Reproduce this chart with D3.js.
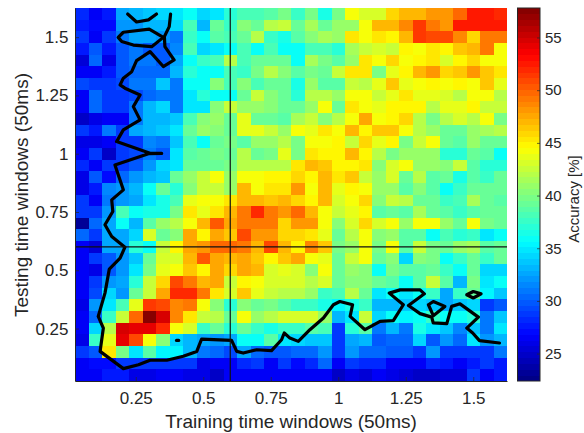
<!DOCTYPE html>
<html><head><meta charset="utf-8"><script src="https://cdn.jsdelivr.net/npm/d3@7"></script>
<style>html,body{margin:0;padding:0;background:#fff}svg{display:block}text{font-family:"Liberation Sans",Arial,sans-serif;fill:#262626}</style>
</head><body><div id="c"></div><script>
const accuracy=[
[28,26.8,27.5,32.5,33,34,34.5,34.8,35.7,34.5,35,37,38,38,38.5,40,37.5,40,36.5,40,44.5,43,43,46,47,47,48,48,50,52.5,52.5,52],
[27.5,27,27,32,32,33,33,34.5,38,33,39,37.5,40.5,39.5,42,42.5,39,41.5,39,41,41,44.5,47,47,48.5,51.5,49.5,48,52.5,52.5,52.5,52.5],
[29,26.8,28.5,31,32.5,32.5,32,31,37.5,35.7,38.5,38,39,42,37.5,36.5,38.5,40.5,41.5,41,45.5,44.5,45.5,45,47,51.5,51,51,48.5,46,49,49],
[27.5,30,27.5,30,31,30,30,31.5,38,34.5,35,36,38,36,38,36,36,38,38,37,41.5,42.5,43,42.5,45,44,45.5,45,46.5,47,49,44.5],
[25.5,30.5,26,30,31,31,30,32.5,35.7,37.5,38,42,38,39.5,39.5,39,35.7,41.5,40,38.5,41,45.5,44,46,44,45,45.5,43,45,46,44,44.5],
[26.8,26.8,27.5,30,30.5,30.5,30.5,33,37,35.7,35.7,38,37.5,40,42,40.5,38.5,40,39,42.5,45.5,45.5,40,43.5,45,47,48,46,46.5,48,46.5,45.5],
[29.5,29,29,29.5,31,31,34,31,35.7,35.7,40.5,38,40.5,38,39,39,36.5,41,38.5,38.5,42.5,42,43.5,46.5,43.5,44.5,45,44,45,44.5,46.5,43.8],
[26.8,30.5,28.5,28.5,29.5,30.5,31,31,35,37,35.7,35.7,39,42.5,40.5,39,37,42,42,41,44,44.5,42.5,43.5,45.5,43.5,43.5,43,42,44,44.5,42],
[26.8,30.5,29,29,31,33,34.5,31,35,35,40.5,42.5,41,41,40.5,39,39.5,41,44,39,45.5,44,43.5,45,45,45,42,43.5,43.5,45,42.5,42.5],
[25,26,26.5,26.8,31,33,33,34,38,40.5,41,39.5,43.5,39,39.5,38.5,41.5,42.5,40.5,42,44.5,47.5,44.5,45,46,42,40,42,43,42,44,40],
[28.5,27.5,31,29,32.5,33,34,35,39,41,40.5,39,43.5,43.5,42.5,41,44,43.5,45.5,44,47,45,46.5,46.5,44,42,41,39.5,39.5,41,41.5,42],
[26,26,26.8,29,29,31.5,31,33.5,38,36,39,40,38.5,41,41,42,40,44,44.5,45,42.5,46,43.5,45,40,42.5,44.5,39.5,38.5,41,39,39],
[26.5,29,25,29,29.5,31,30,35,38.5,39,40,39.5,42,39,40,43.5,40,45.5,45,45,47,45,42,40,41,41,41,37,37,39.5,38.5,35.7],
[28,26.8,29,29,30,32,34.5,35,39,39,39.5,40,42,42,42,42,45.5,47,46.5,45,45,45.5,40.5,43,44.5,41,41,40.5,42.5,38.5,37,37],
[26,30,27,30.5,32,33,33.5,39.5,41,42.5,44,41,44,44,44.8,44.8,46,45,47,45.5,46.5,42.5,41,43,39,42,38.5,39,36.5,38.5,37.5,39.5],
[26,27.5,31.5,32,33,35.7,39.5,37,40.5,42.5,42.5,41,47,44.5,45.5,45.5,48,44,47,43.5,45,44,41,41,38.5,40.5,38.5,35.7,37.5,39,39.5,39.5],
[28.5,26.8,31,32,32.5,35,36.5,38,43.5,44,44.5,45.5,47,47,46.5,47,46,45,47,43,44.5,46,40.5,42.5,42,39.5,39,37.5,38,41.5,39.5,38.5],
[29,29,32,38,35.7,36.5,36.5,40,45.5,43.5,45.5,47,49.5,52,49.5,48,50,47,44,42.5,43.5,45,38.5,39.5,38.5,41.5,39.5,38.5,37.5,38.5,39.5,39.5],
[23.5,30.5,32.5,35.7,33,38.5,41,42,44.5,47,50.5,47.5,49.5,49.5,49.5,46,48,48,44.5,40.5,43,46,43,44.5,41,44.5,44,41,39,44.5,40,39.5],
[30.5,29,32.5,32.5,34.5,43,39.5,40.5,47.5,45,47.5,46.5,51,48,48,46,46,45.5,43.5,39,42,44,40.5,41,38.5,38.5,36,38,37,37.5,35,36],
[26.8,25.5,32.5,32.5,37,36,42.5,44.8,47.5,48,50,50,49.5,47,51,47,45,48.5,46.5,40,41,44,40,44.5,38.5,42.5,40,39,41,41.5,38.5,39],
[26.8,29,30,32,34,39,43,43,47,50.5,47.5,47,47.5,46.5,44.8,46.5,47.5,44,43.5,39.5,42.5,44,39.5,40.5,34.5,40.5,40,35.7,37.5,39.5,37.5,39],
[26.8,26,30,32,35,40,43.5,44.5,46.5,45,47.5,46,47.5,47,43,43.5,43,40.5,44.5,39,41,40.5,35.7,40,38.5,38.5,39.5,37.5,36,39.5,34.5,34.5],
[26.8,29,32,32.5,37,42.5,46,51,49,47,47.5,42.5,45,44.5,43,43,43,42,43,39,40.5,40.5,39,38.5,35.7,38.5,42.5,38.5,33,40,35,35.7],
[26.8,29.5,34.5,32,39,42.5,47.5,52,52,49.5,45.5,43,46.5,43.5,42.5,42,42,41,37.5,38,42,39.5,35,35.7,35,36,37.5,32.5,37.5,39,35.5,33.5],
[26,32,35,38,43.5,51.5,51,48.5,49,44,40.5,37,40.5,39.5,40,38.5,37.5,37.5,36.5,35.5,36.5,37.5,33,33,33.5,34.5,34,32.5,34,34.5,29,30],
[26.8,30.5,37.5,42.5,50,57.5,55,48.5,45.5,42.5,42,39,44,41,42,43,43,43,41,33,35,42.5,34.5,35.7,35.5,35.7,37.5,36,36,37,31,34],
[26.8,34.5,42,55,54,54,52,44,43,37.5,39,37,39.5,37.5,36.5,37.5,37.5,38.5,38,29,37,38.5,31,33,31,36.5,35,34,31.5,34,31,35],
[26,37.5,43.5,54,51,44,40.5,34.5,33,32.5,32,32.5,35.7,36,38.5,35,34.5,33.5,33.5,29,32.5,33,30,30.5,30.5,34.5,30,32,30.5,35,32,33],
[28.5,30,45.5,40,35,38.5,35.5,35.5,33,31,30.5,29.5,32.5,30.5,30,30,30.5,30.5,32,29,32,30.5,30.5,30,30,28.5,32,29,29,29,29,31],
[26.5,27,27,29,29,28.5,29,28.5,28.5,26,26.5,26.8,28,29,26.8,28.5,27,28,30.5,26.5,28.5,28,28,26.5,26.5,26.5,28,27.5,26.8,27.5,28.5,27.5],
[26.5,26.5,27.5,27.5,26,26,26.5,26.5,26,26,25,26.5,26.8,26.8,26.5,26.5,26.5,26.5,26.5,25,26,25.5,26.8,26,25.5,25,25,25.5,25.5,29,26.5,27.5]
];
const tickValues=[0.25,0.5,0.75,1,1.25,1.5];
const tickLabels=["0.25","0.5","0.75","1","1.25","1.5"];
const colorTicks=[25,30,35,40,45,50,55];
const markerX=0.6, markerY=0.6;
const contourTop=[[.220,1.599],[.253,1.565],[.297,1.574],[.327,1.599]];
const contourLoop=[[.185,1.499],[.204,1.521],[.300,1.534],[.352,1.499],[.309,1.459],[.241,1.466],[.198,1.481],[.185,1.499]];
const contourMain=[[.379,1.599],[.374,1.545],[.356,1.502],[.358,1.459],[.392,1.402],[.352,1.374],[.303,1.438],[.253,1.399],[.235,1.352],[.204,1.324],[.192,1.295],[.210,1.281],[.266,1.252],[.241,1.202],[.266,1.145],[.204,1.102],[.179,1.052],[.303,1.002],[.346,1.001],[.297,1.000],[.173,.952],[.204,.845],[.161,.802],[.165,.752],[.136,.695],[.161,.645],[.210,.599],[.192,.552],[.152,.505],[.136,.402],[.111,.302],[.130,.252],[.118,.152],[.204,.078],[.260,.095],[.303,.114],[.365,.114],[.426,.131],[.476,.152],[.494,.205],[.605,.199],[.624,.152],[.648,.145],[.698,.159],[.753,.155],[.790,.202],[.800,.231],[.821,.209],[.852,.195],[.895,.245],[.945,.295],[.982,.352],[1.006,.366],[1.053,.352],[1.044,.302],[1.099,.245],[1.155,.281],[1.204,.284],[1.241,.352],[1.189,.402],[1.229,.416],[1.303,.416],[1.319,.399],[1.260,.349],[1.303,.314],[1.346,.299],[1.352,.274],[1.402,.271],[1.420,.345],[1.451,.356],[1.519,.299],[1.476,.252],[1.498,.231],[1.523,.198],[1.597,.188]];
const contourDiamond=[[1.334,.352],[1.352,.366],[1.395,.345],[1.352,.305],[1.334,.352]];
const contourSmall=[[1.476,.395],[1.5,.409],[1.529,.399],[1.5,.381],[1.476,.395]];
const contourDot=[[.401,.199],[.409,.199]];

const W=584,H=433,L=75,R=507,T=8,B=381;
const INK="#262626";
const svg=d3.select("#c").append("svg").attr("width",W).attr("height",H);
const x=d3.scaleLinear().domain([0.025,1.625]).range([L,R]);
const y=d3.scaleLinear().domain([0.025,1.625]).range([B,T]);
const cMin=22.4,cMax=57.8;
function jet(t){
  const f=(a)=>Math.max(0,Math.min(1,a));
  const r=f(Math.min(4*t-1.5,-4*t+4.5)),g=f(Math.min(4*t-0.5,-4*t+3.5)),b=f(Math.min(4*t+0.5,-4*t+2.5));
  return d3.rgb(r*255,g*255,b*255);
}
const color=d3.scaleQuantize().domain([cMin,cMax]).range(d3.range(64).map(i=>jet((i+0.5)/64)));
const g=svg.append("g").attr("shape-rendering","crispEdges");
accuracy.forEach((row,r)=>{
  g.selectAll(null).data(row).enter().append("rect")
   .attr("x",(d,c)=>x(0.025+c*0.05))
   .attr("y",y(1.625-r*0.05))
   .attr("width",(d,c)=>x(0.075+c*0.05)-x(0.025+c*0.05)+0.3)
   .attr("height",y(0.025)-y(0.075)+0.3)
   .attr("fill",d=>color(d));
});
const line=d3.line().x(d=>x(d[0])).y(d=>y(d[1]));
[contourTop,contourLoop,contourMain,contourDiamond,contourSmall,contourDot].forEach(c=>{
  svg.append("path").attr("d",line(c)).attr("fill","none").attr("stroke","#000")
    .attr("stroke-width",3.2).attr("stroke-linejoin","round").attr("stroke-linecap","round");
});
svg.append("line").attr("x1",x(markerX)).attr("x2",x(markerX)).attr("y1",T).attr("y2",B).attr("stroke","#111").attr("stroke-width",1.2);
svg.append("line").attr("x1",L).attr("x2",R).attr("y1",y(markerY)).attr("y2",y(markerY)).attr("stroke","#111").attr("stroke-width",1.2);

const xa=svg.append("g").attr("transform",`translate(0,${B})`)
  .call(d3.axisBottom(x).tickValues(tickValues).tickFormat((d,i)=>tickLabels[i]).tickSizeInner(-4).tickSizeOuter(0).tickPadding(11.3));
const ya=svg.append("g").attr("transform",`translate(${L},0)`)
  .call(d3.axisLeft(y).tickValues(tickValues).tickFormat((d,i)=>tickLabels[i]).tickSizeInner(-4).tickSizeOuter(0).tickPadding(6.5));
[xa,ya].forEach(a=>{a.select(".domain").attr("stroke",INK).attr("stroke-width",1);a.selectAll("line").attr("stroke",INK).attr("stroke-width",.7);a.selectAll("text").attr("font-size",17).attr("font-family","Liberation Sans").attr("fill",INK);});
svg.append("text").attr("x",291).attr("y",428).attr("text-anchor","middle").attr("font-size",19).text("Training time windows (50ms)");
svg.append("text").attr("transform","translate(28,195) rotate(-90)").attr("text-anchor","middle").attr("font-size",19).text("Testing time windows (50ms)");

// colorbar
const cbL=517.5,cbR=540;
const cy=d3.scaleLinear().domain([cMin,cMax]).range([B,T]);
const cb=svg.append("g").attr("shape-rendering","crispEdges");
cb.selectAll("rect").data(color.range()).enter().append("rect")
  .attr("x",cbL).attr("width",cbR-cbL)
  .attr("y",(d,i)=>cy(cMin+(i+1)*(cMax-cMin)/64))
  .attr("height",(B-T)/64+0.4)
  .attr("fill",d=>d);
svg.append("rect").attr("x",cbL).attr("y",T).attr("width",cbR-cbL).attr("height",B-T).attr("fill","none").attr("stroke",INK).attr("stroke-width",1);
const ca=svg.append("g").attr("transform",`translate(${cbR},0)`)
  .call(d3.axisRight(cy).tickValues(colorTicks).tickSizeInner(-3).tickSizeOuter(0).tickPadding(5));
ca.select(".domain").remove();
ca.selectAll("line").attr("stroke",INK).attr("stroke-width",.7);
ca.selectAll("text").attr("font-size",15).attr("font-family","Liberation Sans").attr("fill",INK);
svg.append("text").attr("transform","translate(579,199) rotate(-90)").attr("text-anchor","middle").attr("font-size",15).text("Accuracy [%]");
</script></body></html>
